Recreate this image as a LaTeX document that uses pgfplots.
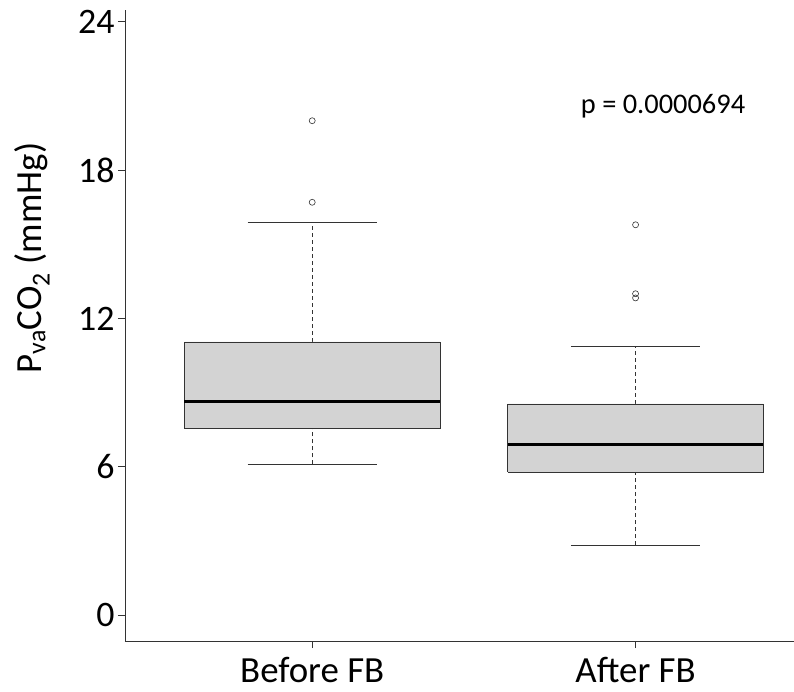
\documentclass[border=0pt]{standalone}
\usepackage{pgfplots}
\pgfplotsset{compat=1.18}
\usepackage{fontspec}
\setmainfont{Carlito}
\definecolor{boxgray}{HTML}{D3D3D3}
\definecolor{edgegray}{HTML}{333333}
\begin{document}
\begin{tikzpicture}
\begin{axis}[
    name=ax,
    scale only axis,
    width=669bp, height=631bp,
    xmin=0.421, xmax=2.49,
    ymin=-1.05, ymax=24.48,
    axis x line=bottom, axis y line=left,
    axis line style={-, edgegray, line width=0.8bp},
    tick style={edgegray, line width=0.8bp},
    tick align=outside,
    major tick length=7bp,
    xtick={1,2}, xticklabels={Before FB, After FB},
    ytick={0,6,12,18,24},
    /pgf/number format/assume math mode=true,
    ticklabel style={font=\fontsize{36}{43}\selectfont},
    xticklabel style={font=\fontsize{37}{44}\selectfont, yshift=-8bp, inner sep=1bp},
    ylabel={P\textsubscript{va}CO\textsubscript{2} (mmHg)},
    ylabel style={font=\fontsize{37}{44}\selectfont, at={(axis description cs:0,0.607)}, anchor=center, yshift=93bp},
    whisk/.style={edgegray, line width=0.8bp, dash pattern=on 4bp off 3bp, forget plot},
    cap/.style={edgegray, line width=0.8bp, forget plot},
    med/.style={black, line width=3bp, forget plot},
    box/.style={draw=edgegray, fill=boxgray, line width=0.8bp, forget plot},
    out/.style={only marks, mark=o, mark size=3bp, mark options={draw=edgegray, line width=0.6bp}, forget plot},
]
% Before FB: whiskers 6.1 / 15.9, quartiles 7.57 / 11.05, median 8.66
\addplot[whisk] coordinates {(1,6.1) (1,7.57)};
\addplot[whisk] coordinates {(1,11.05) (1,15.9)};
\addplot[cap] coordinates {(0.8,6.1) (1.2,6.1)};
\addplot[cap] coordinates {(0.8,15.9) (1.2,15.9)};
\addplot[box] coordinates {(0.605,7.57) (1.395,7.57) (1.395,11.05) (0.605,11.05) (0.605,7.57)};
\addplot[med] coordinates {(0.605,8.66) (1.395,8.66)};
\addplot[out] coordinates {(1,16.7) (1,20.0)};
% After FB: whiskers 2.83 / 10.85, quartiles 5.79 / 8.54, median 6.88
\addplot[whisk] coordinates {(2,2.83) (2,5.79)};
\addplot[whisk] coordinates {(2,8.54) (2,10.85)};
\addplot[cap] coordinates {(1.8,2.83) (2.2,2.83)};
\addplot[cap] coordinates {(1.8,10.85) (2.2,10.85)};
\addplot[box] coordinates {(1.605,5.79) (2.395,5.79) (2.395,8.54) (1.605,8.54) (1.605,5.79)};
\addplot[med] coordinates {(1.605,6.88) (2.395,6.88)};
\addplot[out] coordinates {(2,12.83) (2,13.0) (2,15.79)};
\node[font=\fontsize{28.5}{34}\selectfont] at (axis cs:2.085,20.58) {p = 0.0000694};
\end{axis}
\pgfresetboundingbox
\path ([shift={(-125bp,-51bp)}]ax.south west) rectangle ([shift={(0bp,10bp)}]ax.north east);
\end{tikzpicture}
\end{document}
